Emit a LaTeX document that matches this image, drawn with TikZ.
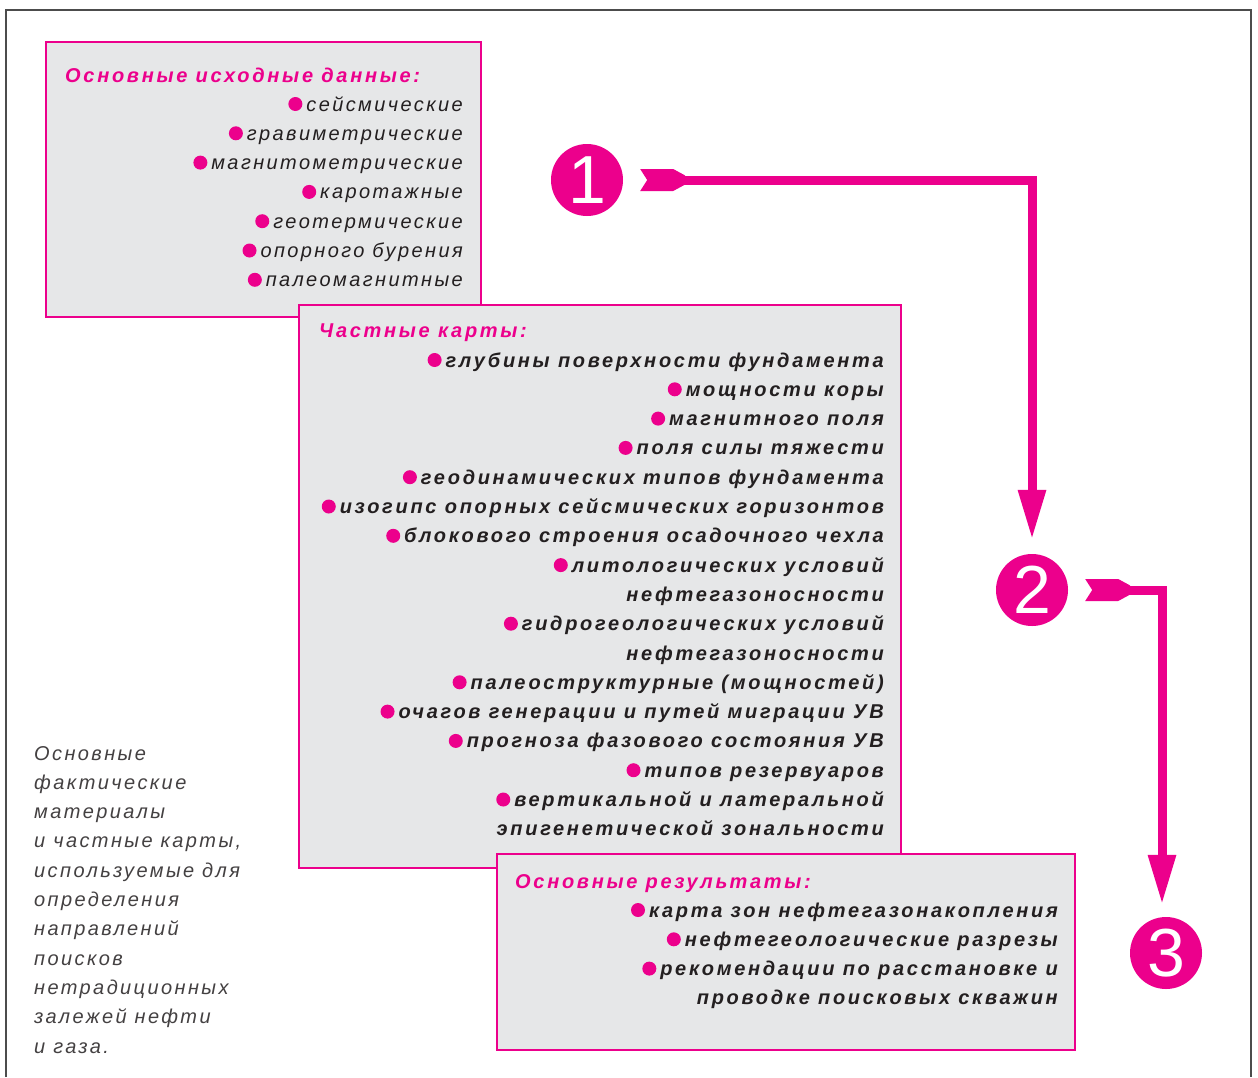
\documentclass[tikz,border=0pt]{standalone}
\usepackage{fontspec}
\setmainfont{Liberation Sans}[LetterSpace=12]
\newfontfamily\numfont{Liberation Sans}
\usetikzlibrary{arrows.meta}
\definecolor{pk}{HTML}{EC008C}
\definecolor{boxgray}{HTML}{E6E7E8}
\definecolor{ink}{HTML}{231F20}
\newcommand\bul{\tikz[baseline=0pt]\fill[pk] (7pt,7pt) circle (7pt);\hspace{4pt}}

\begin{document}
\begin{tikzpicture}[x=1pt, y=-1pt,
    frame/.style={draw=black!70, line width=1.5pt},
    panel/.style={draw=pk, line width=2.5pt, fill=boxgray},
    head/.style={anchor=base west, inner sep=0pt, text=pk,
                 font=\fontsize{20}{24}\selectfont\bfseries\itshape\addfontfeature{LetterSpace=13.5}},
    item/.style={anchor=base east, inner sep=0pt, text=ink,
                 font=\fontsize{20}{24}\selectfont\itshape},
    bitem/.style={item, font=\fontsize{20}{24}\selectfont\bfseries\itshape\addfontfeature{LetterSpace=13.5}},
    note/.style={anchor=base west, inner sep=0pt, text=ink!85,
                 font=\fontsize{20}{24}\selectfont\itshape},
    num/.style={circle, fill=pk, minimum size=72pt, inner sep=0pt, text=white,
                font=\numfont\fontsize{68}{68}\selectfont},
    flow/.style={draw=pk, line width=9pt, -{Triangle[length=50pt, width=26pt]}},
    pics/flag/.style={code={\fill[pk] (0,-11) -- (33,-11) -- (45,-4.5) -- (45,4.5)
                      -- (33,11) -- (0,11) -- (7,0) -- cycle;}},
  ]
    \useasboundingbox (0,0) rectangle (1258,1077);
    \fill[white] (0,0) rectangle (1258,1077);

    % outer frame, open at the bottom
    \draw[frame] (6,1077) -- (6,10) -- (1251,10) -- (1251,1077);

    % Panels -- back to front
    \draw[panel] (46,42) rectangle (481,317);
    \draw[panel] (299,305) rectangle (901,868);
    \draw[panel] (497,854) rectangle (1075,1050);

    % Basic input data
    \node[head] (srch) at (65,82) {Основные исходные данные:};
    \foreach \t [count=\i from 0] in {сейсмические, гравиметрические,
        магнитометрические, каротажные, геотермические, опорного бурения,
        палеомагнитные}
      \node[item] (src\i) at (463,{111+29.3*\i}) {\bul\t};

    % Particular maps
    \node[head] (maph) at (319,337) {Частные карты:};
    \foreach \t [count=\i from 0] in {{\bul глубины поверхности фундамента},
        {\bul мощности коры}, {\bul магнитного поля}, {\bul поля силы тяжести},
        {\bul геодинамических типов фундамента},
        {\bul изогипс опорных сейсмических горизонтов},
        {\bul блокового строения осадочного чехла},
        {\bul литологических условий}, {нефтегазоносности},
        {\bul гидрогеологических условий}, {нефтегазоносности},
        {\bul палеоструктурные (мощностей)},
        {\bul очагов генерации и путей миграции УВ},
        {\bul прогноза фазового состояния УВ}, {\bul типов резервуаров},
        {\bul вертикальной и латеральной}, {эпигенетической зональности}}
      \node[bitem] (map\i) at (884,{367+29.3*\i}) {\t};

    % Main results
    \node[head] (resh) at (515,888) {Основные результаты:};
    \foreach \t [count=\i from 0] in {{\bul карта зон нефтегазонакопления},
        {\bul нефтегеологические разрезы},
        {\bul рекомендации по расстановке и}, {проводке поисковых скважин}}
      \node[bitem] (res\i) at (1058,{917+29.3*\i}) {\t};

    % side note
    \foreach \t [count=\i from 0] in {Основные, фактические, материалы,
        {и частные карты,}, используемые для, определения, направлений,
        поисков, нетрадиционных, залежей нефти, и газа.}
      \node[note] (txt\i) at (34,{760+29.3*\i}) {\t};

    % Stages
    \node[num] (n1) at (587,180) {1};
    \node[num] (n2) at (1032,590) {2};
    \node[num] (n3) at (1166,953) {3};

    % Connections
    \pic at ([xshift=17pt]n1.east) {flag};
    \draw[flow, shorten <=55pt, shorten >=14pt] (n1.east) -| (n2.north);
    \pic at ([xshift=17pt]n2.east) {flag};
    \draw[flow, shorten <=55pt, shorten >=12pt] (n2.east) -| ([xshift=-4pt]n3.north);
  \end{tikzpicture}
\end{document}
